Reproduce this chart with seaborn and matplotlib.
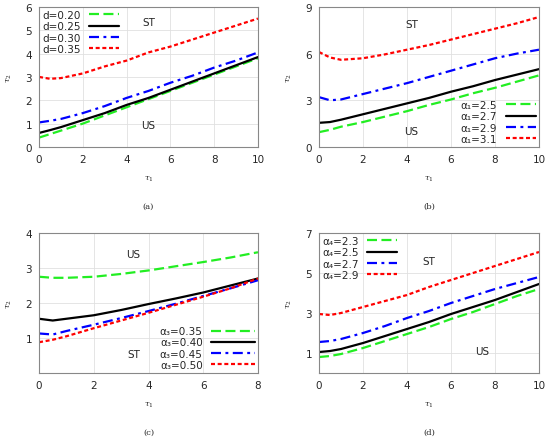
import numpy as np
import pandas as pd
import matplotlib
matplotlib.use('Agg')
import matplotlib.pyplot as plt
import seaborn as sns

# x grids
tau1_a = [0, 0.5, 1, 2, 3, 4, 5, 6, 7, 8, 9, 10]
tau1_c = [0, 0.5, 1, 2, 3, 4, 5, 6, 7, 8]

# panel (a): d values
labels_a = ['d=0.20', 'd=0.25', 'd=0.30', 'd=0.35']
a_d020 = [0.40, 0.55, 0.70, 1.00, 1.35, 1.70, 2.05, 2.40, 2.75, 3.10, 3.45, 3.80]
a_d025 = [0.60, 0.72, 0.85, 1.15, 1.45, 1.80, 2.10, 2.45, 2.80, 3.15, 3.50, 3.85]
a_d030 = [1.05, 1.12, 1.20, 1.45, 1.75, 2.10, 2.40, 2.75, 3.05, 3.40, 3.70, 4.05]
a_d035 = [3.00, 2.92, 2.95, 3.15, 3.45, 3.70, 4.05, 4.30, 4.60, 4.90, 5.20, 5.50]

# panel (b): alpha1 values
labels_b = ['α₁=2.5', 'α₁=2.7', 'α₁=2.9', 'α₁=3.1']
b_25 = [0.95, 1.10, 1.30, 1.60, 1.95, 2.30, 2.70, 3.05, 3.45, 3.80, 4.20, 4.60]
b_27 = [1.55, 1.60, 1.75, 2.10, 2.45, 2.80, 3.15, 3.55, 3.90, 4.30, 4.65, 5.00]
b_29 = [3.20, 3.00, 3.05, 3.40, 3.75, 4.10, 4.50, 4.90, 5.30, 5.70, 6.00, 6.25]
b_31 = [6.10, 5.75, 5.60, 5.70, 5.95, 6.25, 6.55, 6.90, 7.25, 7.60, 7.95, 8.35]

# panel (c): alpha3 values
labels_c = ['α₃=0.35', 'α₃=0.40', 'α₃=0.45', 'α₃=0.50']
c_035 = [2.75, 2.72, 2.72, 2.75, 2.83, 2.93, 3.05, 3.17, 3.30, 3.45]
c_040 = [1.55, 1.50, 1.55, 1.65, 1.80, 1.97, 2.13, 2.30, 2.50, 2.70]
c_045 = [1.13, 1.10, 1.20, 1.38, 1.57, 1.77, 1.98, 2.20, 2.42, 2.65]
c_050 = [0.88, 0.95, 1.05, 1.28, 1.50, 1.72, 1.95, 2.18, 2.42, 2.70]

# panel (d): alpha4 values
labels_d = ['α₄=2.3', 'α₄=2.5', 'α₄=2.7', 'α₄=2.9']
d_23 = [0.80, 0.85, 0.95, 1.25, 1.60, 1.95, 2.30, 2.70, 3.05, 3.45, 3.85, 4.20]
d_25 = [1.05, 1.10, 1.20, 1.50, 1.85, 2.20, 2.55, 2.95, 3.30, 3.65, 4.05, 4.45]
d_27 = [1.55, 1.60, 1.70, 2.00, 2.35, 2.75, 3.10, 3.50, 3.85, 4.20, 4.50, 4.80]
d_29 = [2.95, 2.90, 3.00, 3.30, 3.60, 3.90, 4.30, 4.65, 5.00, 5.35, 5.70, 6.05]

colors = ['#22ee22', 'black', '#0000ff', '#ff0000']
dashes = [(4.5, 2), '', (4.5, 2, 1.3, 2), (1.8, 1.2)]

sns.set_theme(style='whitegrid')
plt.rcParams['font.family'] = ['DejaVu Sans']
plt.rcParams['mathtext.fontset'] = 'dejavuserif'

fig = plt.figure(figsize=(5.5, 4.39), dpi=100)


def make_df(x, series, labels):
    rows = []
    for lab, ys in zip(labels, series):
        for xv, yv in zip(x, ys):
            rows.append({'tau1': xv, 'tau2': yv, 'curve': lab})
    return pd.DataFrame(rows)


def panel(rect, x, series, labels, xlim, ylim, yticks, xticks, legend_loc,
          st_pos, us_pos, tag, hlen=2.9):
    ax = fig.add_axes(rect)
    df = make_df(x, series, labels)
    sns.lineplot(data=df, x='tau1', y='tau2', hue='curve', style='curve',
                 palette=colors, dashes=dashes, linewidth=1.6, ax=ax)
    ax.set_xlim(*xlim)
    ax.set_ylim(*ylim)
    ax.set_xticks(xticks)
    ax.set_yticks(yticks)
    ax.tick_params(labelsize=7.5, length=0)
    ax.tick_params(axis='x', pad=5)
    ax.tick_params(axis='y', pad=5)
    ax.grid(True, color='#e0e0e0', linewidth=0.6)
    for s in ax.spines.values():
        s.set_color('#888888')
        s.set_linewidth(0.8)
    ax.set_xlabel(r'$\tau_1$', fontsize=6, labelpad=7)
    ax.set_ylabel(r'$\tau_2$', fontsize=6, labelpad=8)
    ax.legend(loc=legend_loc, frameon=False, fontsize=7.5,
              handlelength=hlen, labelspacing=0.12, handletextpad=0.8,
              borderaxespad=0.1, borderpad=0.2, markerfirst=False)
    ax.text(st_pos[0], st_pos[1], 'ST', fontsize=7.5, ha='center', va='center')
    ax.text(us_pos[0], us_pos[1], 'US', fontsize=7.5, ha='center', va='center')
    ax.text(0.5, -0.42, tag, transform=ax.transAxes, fontsize=6,
            family='serif', ha='center', va='center')
    return ax


panel([0.071, 0.663, 0.398, 0.319], tau1_a, [a_d020, a_d025, a_d030, a_d035],
      labels_a, (0, 10), (0, 6), [0, 1, 2, 3, 4, 5, 6], [0, 2, 4, 6, 8, 10],
      'upper left', (5.0, 5.35), (5.0, 0.95), '(a)')

panel([0.58, 0.663, 0.40, 0.319], tau1_a, [b_25, b_27, b_29, b_31],
      labels_b, (0, 10), (0, 9), [0, 3, 6, 9], [0, 2, 4, 6, 8, 10],
      'lower right', (4.2, 7.9), (4.2, 1.05), '(b)')

panel([0.071, 0.148, 0.398, 0.319], tau1_c, [c_035, c_040, c_045, c_050],
      labels_c, (0, 8), (0, 4), [1, 2, 3, 4], [0, 2, 4, 6, 8],
      'lower right', (3.45, 0.55), (3.45, 3.4), '(c)', hlen=4.2)

panel([0.58, 0.148, 0.40, 0.319], tau1_a, [d_23, d_25, d_27, d_29],
      labels_d, (0, 10), (0, 7), [1, 3, 5, 7], [0, 2, 4, 6, 8, 10],
      'upper left', (5.0, 5.6), (7.4, 1.1), '(d)')

fig.savefig('out.png', dpi=100)
plt.close(fig)
